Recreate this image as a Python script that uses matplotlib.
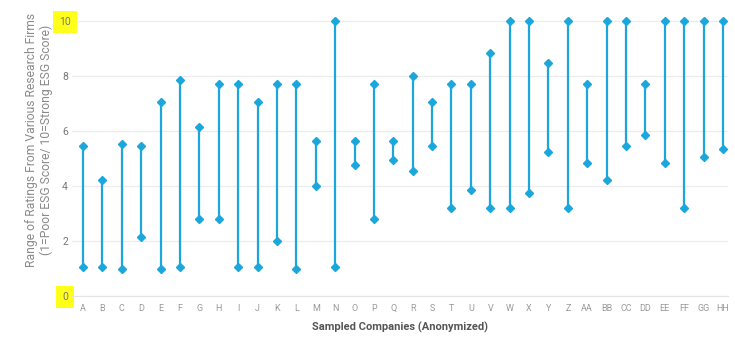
import matplotlib
matplotlib.use('Agg')
import matplotlib.pyplot as plt

# Data
companies = ['A', 'B', 'C', 'D', 'E', 'F', 'G', 'H', 'I', 'J', 'K', 'L', 'M', 'N', 'O', 'P', 'Q',
             'R', 'S', 'T', 'U', 'V', 'W', 'X', 'Y', 'Z', 'AA', 'BB', 'CC', 'DD', 'EE', 'FF', 'GG', 'HH']
low_scores = [1.07, 1.07, 0.97, 2.16, 0.97, 1.07, 2.8, 2.8, 1.07, 1.07, 2.0, 0.97, 4.01, 1.07, 4.76, 2.8, 4.95,
              4.55, 5.45, 3.2, 3.85, 3.2, 3.2, 3.73, 5.25, 3.2, 4.85, 4.22, 5.45, 5.85, 4.85, 3.2, 5.05, 5.36]
high_scores = [5.47, 4.22, 5.52, 5.47, 7.07, 7.84, 6.16, 7.71, 7.71, 7.07, 7.71, 7.71, 5.65, 10, 5.65, 7.71, 5.65,
               8.0, 7.07, 7.71, 7.71, 8.85, 10, 10, 8.48, 10, 7.71, 10, 10, 7.71, 10, 10, 10, 10]
y_ticks = [0, 2, 4, 6, 8, 10]

plt.rcParams['font.family'] = ['Roboto', 'DejaVu Sans']

blue = '#1ba6dc'

fig = plt.figure(figsize=(7.35, 3.39), dpi=100)
ax = fig.add_axes([72 / 735, (339 - 296) / 339, 656 / 735, (296 - 15.5) / 339])

x = list(range(len(companies)))
for i in x:
    ax.plot([i, i], [low_scores[i], high_scores[i]], color=blue, lw=1.6,
            marker='D', ms=3.9, mec=blue, mfc=blue, solid_capstyle='butt', clip_on=False, zorder=3)

ax.set_xlim(-0.57, len(companies) - 1 + 0.26)
ax.set_ylim(0, 10.2)
ax.set_xticks(x)
ax.set_xticklabels(companies, fontsize=6.5, color='#999999')
ax.set_yticks(y_ticks)
ax.set_yticklabels([str(v) for v in y_ticks], fontsize=7.5, color='#777777')
for lab in ax.get_yticklabels():
    lab.set_horizontalalignment('center')
    if lab.get_text() in ('0', '10'):
        lab.set_bbox(dict(facecolor='#ffff1a', edgecolor='none', boxstyle='square,pad=0.55'))

ax.tick_params(axis='y', length=0, pad=5)
ax.tick_params(axis='x', length=0, pad=6)
ax.grid(axis='y', color='#ececec', lw=0.9)
ax.set_axisbelow(True)
for side in ['top', 'right', 'left']:
    ax.spines[side].set_visible(False)
ax.spines['bottom'].set_color('#e3e3e3')

ax.set_xlabel('Sampled Companies (Anonymized)', fontsize=8, color='#555555', fontweight='bold', labelpad=6)
ax.set_ylabel('Range of Ratings From Various Research Firms\n(1=Poor ESG Score/ 10=Strong ESG Score)',
              fontsize=8.7, color='#8a8a8a', linespacing=1.1)
ax.yaxis.set_label_coords(-0.029, 0.555)

fig.savefig('out.png', dpi=100)
